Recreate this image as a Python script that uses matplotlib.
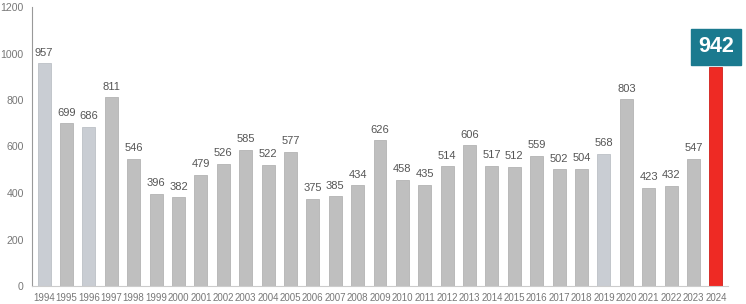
import matplotlib
matplotlib.use("Agg")
import matplotlib.pyplot as plt

plt.rcParams['font.family'] = ['Liberation Sans', 'DejaVu Sans']

years = [str(y) for y in range(1994, 2025)]
values = [957, 699, 686, 811, 546, 396, 382, 479, 526, 585, 522, 577, 375, 385, 434,
          626, 458, 435, 514, 606, 517, 512, 559, 502, 504, 568, 803, 423, 432, 547, 942]
highlight_light = ["1994", "1996", "2019"]
highlight_red = "2024"

gray = "#bfbfbf"
light = "#c9cdd3"
red = "#ee2a24"
teal = "#1b7a8f"

fig = plt.figure(figsize=(7.46, 3.04), dpi=100)
ax = fig.add_axes([32/746, 18/304, 696/746, 279/304])

colors = []
edges = []
for y in years:
    if y == highlight_red:
        colors.append(red); edges.append("#d01f1a")
    elif y in highlight_light:
        colors.append(light); edges.append("#bcc0c6")
    else:
        colors.append(gray); edges.append("#b3b3b3")

x = list(range(len(years)))
ax.bar(x, values, width=0.58, color=colors, edgecolor=edges, linewidth=0.6, zorder=2)

for xi, y, v in zip(x, years, values):
    if y == highlight_red:
        ax.annotate(str(v), (xi, v), xytext=(0, 7), textcoords="offset points",
                    ha="center", va="bottom", fontsize=15.5, fontweight="bold",
                    color="white",
                    bbox=dict(boxstyle="square,pad=0.34", facecolor=teal, edgecolor=teal))
    else:
        ax.annotate(str(v), (xi, v), xytext=(0, 4), textcoords="offset points",
                    ha="center", va="bottom", fontsize=8, color="#555555")

ax.set_xlim(-0.54, len(years) - 0.46)
ax.set_ylim(0, 1200)
ax.set_yticks([0, 200, 400, 600, 800, 1000, 1200])
ax.set_xticks(x)
ax.set_xticklabels(years)
ax.tick_params(axis="both", length=0, labelcolor="#777777")
ax.tick_params(axis="x", pad=5, labelsize=7)
ax.tick_params(axis="y", pad=6, labelsize=7.6)
for s in ["top", "right"]:
    ax.spines[s].set_visible(False)
ax.spines["left"].set_color("#999999")
ax.spines["left"].set_linewidth(0.8)
ax.spines["bottom"].set_color("#cccccc")
ax.spines["bottom"].set_linewidth(0.8)

fig.savefig("out.png", dpi=100)
